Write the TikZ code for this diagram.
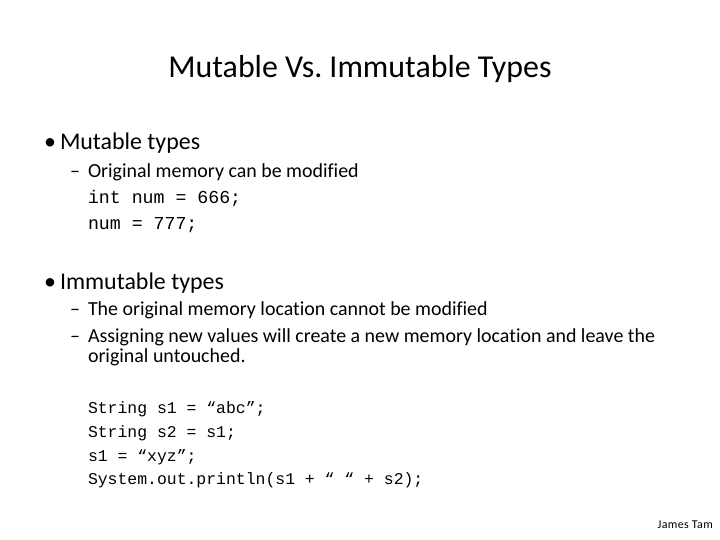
\documentclass[tikz,border=0pt]{standalone}
\usepackage{fontspec}
\setmainfont{Carlito}[Ligatures=NoCommon]
\setmonofont{Liberation Mono}
\frenchspacing
\begin{document}
\begin{tikzpicture}[x=1bp,y=-1bp,
  txt/.style={anchor=base west,inner sep=0pt,outer sep=0pt},
  title/.style={anchor=base,inner sep=0pt,font=\fontsize{32}{38}\selectfont},
  lvone/.style={txt,font=\fontsize{24}{29}\selectfont},
  lvtwo/.style={txt,font=\fontsize{20}{24}\selectfont},
  codeA/.style={txt,font=\ttfamily\fontsize{18.3}{22}\selectfont},
  codeB/.style={txt,font=\ttfamily\fontsize{16.5}{20}\selectfont},
  sig/.style={anchor=base east,inner sep=0pt,font=\fontsize{12}{14}\selectfont\addfontfeature{LetterSpace=3}}]
\useasboundingbox[fill=white] (0,0) rectangle (720,540);
\node[title] (t) at (360,78) {Mutable Vs. Immutable Types};
\node[lvone] (b1) at (44,150) {•};
\node[lvone] (b1t) at (60,150) {Mutable types};
\node[lvtwo] (d1) at (70,178) {–};
\node[lvtwo] (d1t) at (88,178) {Original memory can be modified};
\node[codeA] (c1) at (88,204) {int num = 666;};
\node[codeA] (c2) at (88,230) {num = 777;};
\node[lvone] (b2) at (44,289) {•};
\node[lvone] (b2t) at (60,289) {Immutable types};
\node[lvtwo] (d2) at (70,315) {–};
\node[lvtwo] (d2t) at (88,315) {The original memory location cannot be modified};
\node[lvtwo] (d3) at (70,342) {–};
\node[lvtwo] (d3t) at (88,342) {Assigning new values will create a new memory location and leave the};
\node[lvtwo] (d3u) at (88,362) {original untouched.};
\node[codeB] (s1) at (88,413) {String s1 = “abc”;};
\node[codeB] (s2) at (88,437) {String s2 = s1;};
\node[codeB] (s3) at (88,461) {s1 = “xyz”;};
\node[codeB] (s4) at (88,484) {System.out.println(s1 + “ “ + s2);};
\node[sig] (jt) at (713,528) {James Tam};
\end{tikzpicture}
\end{document}
